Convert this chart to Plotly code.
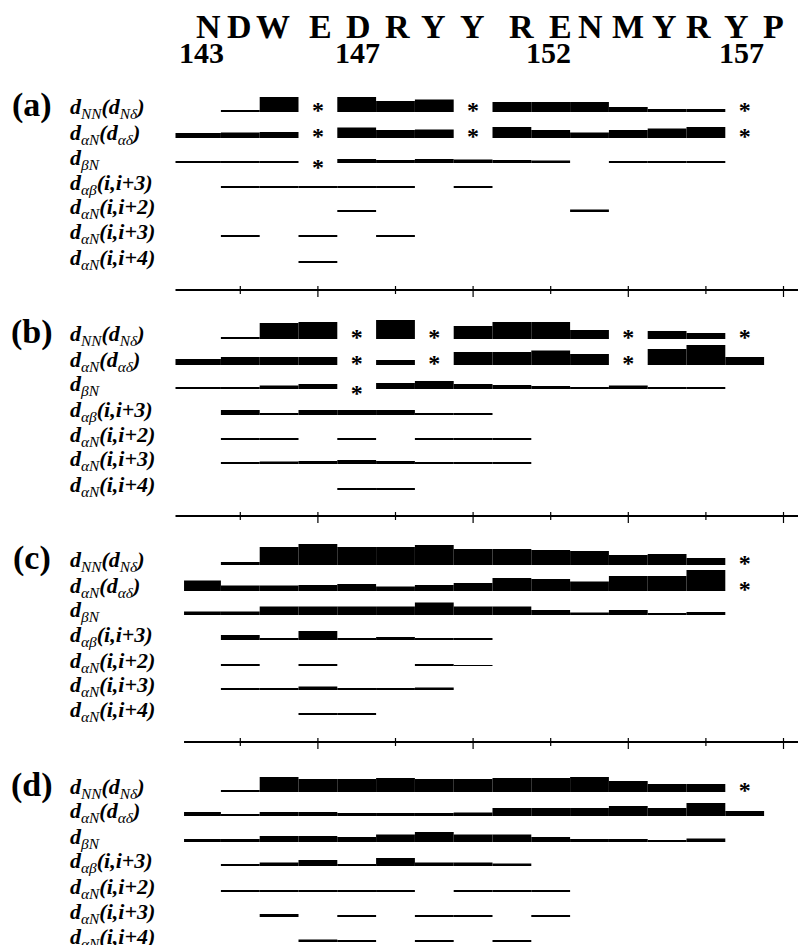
import plotly.graph_objects as go

# ---------------------------------------------------------------- data
residues = list(range(143, 158))          # bar cells, one per residue
sequence = list("NDWEDRYYRENMYRYP")       # residues 143-158
seq_numbers = ["143", "147", "152", "157"]

row_labels = [
    "<b><i>d</i></b><i><sub>NN</sub></i><b><i>(d</i></b><i><sub>Nδ</sub></i><b><i>)</i></b>",
    "<b><i>d</i></b><i><sub>αN</sub></i><b><i>(d</i></b><i><sub>αδ</sub></i><b><i>)</i></b>",
    "<b><i>d</i></b><i><sub>βN</sub></i>",
    "<b><i>d</i></b><i><sub>αβ</sub></i><b><i>(i,i+3)</i></b>",
    "<b><i>d</i></b><i><sub>αN</sub></i><b><i>(i,i+2)</i></b>",
    "<b><i>d</i></b><i><sub>αN</sub></i><b><i>(i,i+3)</i></b>",
    "<b><i>d</i></b><i><sub>αN</sub></i><b><i>(i,i+4)</i></b>",
]
panel_names = ["(a)", "(b)", "(c)", "(d)"]

# NOE intensities (bar thickness), residues 143..157, 0 = not observed
a_dNN  = [0, 2, 15, 0, 15, 11, 12.5, 0, 10, 10, 10, 5, 3, 3, 0]
a_daN  = [5, 5.5, 6, 0, 10.5, 8, 8.5, 0, 11, 8, 5.5, 8, 9.5, 11, 0]
a_dbN  = [1.5, 2, 2, 0, 4, 3, 4, 3.5, 3, 2.5, 0, 2, 1.5, 1.5, 0]
a_dab3 = [0, 1.5, 1.5, 1.5, 1.5, 1.5, 0, 1.5, 0, 0, 0, 0, 0, 0, 0]
a_daN2 = [0, 0, 0, 0, 1.5, 0, 0, 0, 0, 0, 2.5, 0, 0, 0, 0]
a_daN3 = [0, 1.5, 0, 1.5, 0, 1.5, 0, 0, 0, 0, 0, 0, 0, 0, 0]
a_daN4 = [0, 0, 0, 2, 0, 0, 0, 0, 0, 0, 0, 0, 0, 0, 0]

b_dNN  = [0, 2, 16, 17, 0, 19, 0, 13, 17, 17, 9, 0, 8, 6, 0]
b_daN  = [6, 8, 8, 8, 0, 5, 0, 13, 13, 14.5, 11, 0, 16, 20, 8]
b_dbN  = [2, 2, 3.5, 5, 0, 6, 8, 5, 4, 3, 2, 3.5, 1.5, 1.5, 0]
b_dab3 = [0, 5, 2, 5, 5, 5, 1.5, 1.5, 0, 0, 0, 0, 0, 0, 0]
b_daN2 = [0, 1.5, 1.5, 0, 1.5, 0, 1.5, 1.5, 1.5, 0, 0, 0, 0, 0, 0]
b_daN3 = [0, 2, 2.5, 3, 4, 3, 2, 2, 2, 0, 0, 0, 0, 0, 0]
b_daN4 = [0, 0, 0, 0, 2, 2, 0, 0, 0, 0, 0, 0, 0, 0, 0]

c_dNN  = [0, 3, 18, 21, 18, 18, 20, 16, 16, 15, 14, 10, 11, 7, 0]
c_daN  = [10.5, 5.5, 5.5, 6, 7, 4.5, 6, 8, 13, 12, 9.5, 15, 15, 21, 0]
c_dbN  = [3.5, 3.5, 8.5, 8.5, 8.5, 8.5, 12.5, 8.5, 8.5, 5, 2.5, 5, 2, 3, 0]
c_dab3 = [0, 5, 2, 9, 2, 3, 1.5, 2, 0, 0, 0, 0, 0, 0, 0]
c_daN2 = [0, 1.5, 0, 2, 0, 0, 2, 1, 0, 0, 0, 0, 0, 0, 0]
c_daN3 = [0, 2, 2, 3.5, 2, 2, 2.5, 0, 0, 0, 0, 0, 0, 0, 0]
c_daN4 = [0, 0, 0, 2, 2, 0, 0, 0, 0, 0, 0, 0, 0, 0, 0]

d_dNN  = [0, 2, 15, 13, 13, 14, 13, 13, 14, 14, 15, 11, 8, 8, 0]
d_daN  = [4, 2, 4, 4, 3, 3, 3, 3.5, 8, 8, 8, 10, 8, 13, 5]
d_dbN  = [3, 3, 6, 6, 5, 7.5, 10, 7.5, 7.5, 5, 3, 3, 2, 3.5, 0]
d_dab3 = [0, 2, 3.5, 6, 1.5, 8, 3.5, 3.5, 2.5, 0, 0, 0, 0, 0, 0]
d_daN2 = [0, 1.5, 2, 2, 1.5, 1.5, 0, 2, 2, 2, 0, 0, 0, 0, 0]
d_daN3 = [0, 0, 3, 0, 1.5, 0, 2, 2, 0, 2, 0, 0, 0, 0, 0]
d_daN4 = [0, 0, 0, 2.5, 2, 0, 2, 0, 2, 0, 0, 0, 0, 0, 0]

# residues marked with an asterisk (overlapping / ambiguous NOEs)
a_star_dNN = [146, 150, 157]
a_star_daN = [146, 150, 157]
a_star_dbN = [146]
b_star_dNN = [147, 149, 154, 157]
b_star_daN = [147, 149, 154]
b_star_dbN = [147]
c_star_dNN = [157]
c_star_daN = [157]
d_star_dNN = [157]

panels = [
    [a_dNN, a_daN, a_dbN, a_dab3, a_daN2, a_daN3, a_daN4],
    [b_dNN, b_daN, b_dbN, b_dab3, b_daN2, b_daN3, b_daN4],
    [c_dNN, c_daN, c_dbN, c_dab3, c_daN2, c_daN3, c_daN4],
    [d_dNN, d_daN, d_dbN, d_dab3, d_daN2, d_daN3, d_daN4],
]
stars = [
    [a_star_dNN, a_star_daN, a_star_dbN],
    [b_star_dNN, b_star_daN, b_star_dbN],
    [c_star_dNN, c_star_daN, []],
    [d_star_dNN, [], []],
]

# ---------------------------------------------------------------- layout
W, H = 798, 945
PX_PER_RES = 38.8
X0 = 143 - 201.5 / PX_PER_RES
X1 = X0 + W / PX_PER_RES

SERIF = "Liberation Serif, Times New Roman, serif"

# row baselines (px from top) for each panel
baselines = [
    [112, 138, 163, 188, 212, 237, 263],
    [339, 365, 389, 415, 440, 464, 490],
    [565, 591, 615, 640, 666, 690, 715],
    [792, 816, 842, 866, 892, 917, 942],
]
first_cell_left = [142.33, 142.33, 142.55, 142.55]
axis_y = [290, 516, 742]
axis_start = [142.33, 142.33, 142.55]
star_dy = [0, 0, 6]          # asterisk anchor relative to the row baseline
STAR_SIZE = 24
LABEL_SIZE = 22

letter_px = [208, 239, 273, 320, 358, 397, 433, 472,
             521, 560, 590, 628, 664, 698, 736, 773]
number_px = [201, 357, 548, 741]


def px2x(px):
    return X0 + px / PX_PER_RES


fig = go.Figure()

for p, rows in enumerate(panels):
    left = first_cell_left[p]
    for k, vals in enumerate(rows):
        xs, ys, ws = [], [], []
        for r, v in zip(residues, vals):
            if v <= 0:
                continue
            if r == residues[0]:
                xs.append((left + r + 0.5) / 2)
                ws.append(r + 0.5 - left)
            else:
                xs.append(r)
                ws.append(1.0)
            ys.append(-v)
        fig.add_trace(go.Bar(
            x=xs, y=ys, base=baselines[p][k], width=ws,
            marker=dict(color="black", line=dict(width=0)),
            showlegend=False, hoverinfo="skip",
        ))
    for k, rs in enumerate(stars[p]):
        if not rs:
            continue
        fig.add_trace(go.Scatter(
            x=rs, y=[baselines[p][k] + star_dy[k]] * len(rs),
            mode="text", text=["<b>*</b>"] * len(rs),
            textfont=dict(family=SERIF, size=STAR_SIZE, color="#000000"),
            textposition="middle center",
            showlegend=False, hoverinfo="skip",
        ))

annotations = []
shapes = []

# sequence header: one-letter code and residue numbers
for ch, px in zip(sequence, letter_px):
    annotations.append(dict(
        x=px2x(px), y=26, xref="x", yref="y", text=f"<b>{ch}</b>",
        showarrow=False, xanchor="center", yanchor="middle",
        font=dict(family=SERIF, size=34, color="black"),
    ))
for num, px in zip(seq_numbers, number_px):
    annotations.append(dict(
        x=px2x(px), y=52, xref="x", yref="y", text=f"<b>{num}</b>",
        showarrow=False, xanchor="center", yanchor="middle",
        font=dict(family=SERIF, size=30, color="black"),
    ))

# panel letters and row labels
for p, name in enumerate(panel_names):
    annotations.append(dict(
        x=px2x(32), y=baselines[p][0] - 7, xref="x", yref="y",
        text=f"<b>{name}</b>", showarrow=False,
        xanchor="center", yanchor="middle",
        font=dict(family=SERIF, size=34, color="black"),
    ))
    for k, lab in enumerate(row_labels):
        annotations.append(dict(
            x=px2x(68), y=baselines[p][k] - 4, xref="x", yref="y",
            text=lab, showarrow=False, xanchor="left", yanchor="middle",
            font=dict(family=SERIF, size=LABEL_SIZE, color="black"),
        ))

# residue axes separating the panels
for ay, ax0 in zip(axis_y, axis_start):
    shapes.append(dict(type="line", xref="x", yref="y",
                       x0=ax0, x1=X1 + 1, y0=ay, y1=ay,
                       line=dict(color="black", width=2)))
    for r in range(144, 159, 2):
        major = (r - 146) % 4 == 0
        shapes.append(dict(type="line", xref="x", yref="y",
                           x0=r, x1=r, y0=ay - 4, y1=ay + (7 if major else 4),
                           line=dict(color="black", width=1.2)))

fig.update_layout(
    width=W, height=H,
    margin=dict(l=0, r=0, t=0, b=0),
    paper_bgcolor="white", plot_bgcolor="white",
    barmode="overlay",
    xaxis=dict(range=[X0, X1], visible=False, fixedrange=True),
    yaxis=dict(range=[H, 0], visible=False, fixedrange=True),
    annotations=annotations, shapes=shapes,
    showlegend=False,
)

fig.write_html("out.html")
